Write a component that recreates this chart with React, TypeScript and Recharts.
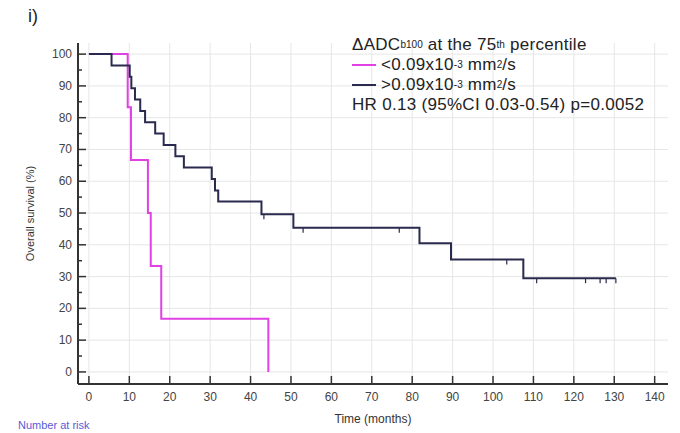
import { ComposedChart, Line, XAxis, YAxis, CartesianGrid, Legend, Label } from "recharts";

// Kaplan-Meier steps
const lowTimes = [0, 9.6, 10.4, 14.6, 15.3, 17.9, 44.4];
const lowSurvival = [100, 83.3, 66.7, 50, 33.3, 16.7, 0];

const highTimes = [0, 5.6, 10.1, 10.5, 11.4, 12.7, 13.9, 16.4, 18.5, 21.4, 23.5, 30.4, 31.2, 32.0, 42.7, 50.6, 81.8, 89.6, 107.5, 130.4];
const highSurvival = [100, 96.4, 92.9, 89.3, 85.7, 82.1, 78.6, 75.0, 71.4, 67.9, 64.3, 60.7, 57.1, 53.6, 49.6, 45.4, 40.5, 35.4, 29.5, 29.5];

const highCensorTimes = [43.3, 53.0, 76.8, 103.4, 110.8, 122.9, 126.5, 128.0, 130.4];
const highCensorSurvival = [49.6, 45.4, 45.4, 35.4, 29.5, 29.5, 29.5, 29.5, 29.5];

const xTicks = [0, 10, 20, 30, 40, 50, 60, 70, 80, 90, 100, 110, 120, 130, 140];
const yTicks = [0, 5, 10, 15, 20, 25, 30, 35, 40, 45, 50, 55, 60, 65, 70, 75, 80, 85, 90, 95, 100];
const yGrid = [0, 10, 20, 30, 40, 50, 60, 70, 80, 90, 100];

const LOW_COLOR = "#e040e4";
const HIGH_COLOR = "#2a2a4e";
const AXIS_COLOR = "#333";
const FONT = "'Liberation Sans', Arial, sans-serif";

const toPoints = (times: number[], values: number[]) => times.map((t, i) => ({ t, s: values[i] }));

const lowData = toPoints(lowTimes, lowSurvival);
const highData = toPoints(highTimes, highSurvival);
const highCensor = toPoints(highCensorTimes, highCensorSurvival);

function XTick({ x, y, payload }: any) {
  return (
    <g>
      <line x1={x} y1={y} x2={x} y2={y - 8} stroke={AXIS_COLOR} strokeWidth={1.5} />
      <text x={x} y={y + 17} textAnchor="middle" fontSize={12} fill="#444" fontFamily={FONT}>
        {payload.value}
      </text>
    </g>
  );
}

function YTick({ x, y, payload }: any) {
  const major = payload.value % 10 === 0;
  return (
    <g>
      <line x1={x} y1={y} x2={x + (major ? 8 : 4)} y2={y} stroke={AXIS_COLOR} strokeWidth={1.5} />
      {major && (
        <text x={x - 6} y={y + 4} textAnchor="end" fontSize={12} fill="#444" fontFamily={FONT}>
          {payload.value}
        </text>
      )}
    </g>
  );
}

function CensorMark({ cx, cy, index }: any) {
  return <line key={`c-${index}`} x1={cx} y1={cy} x2={cx} y2={cy + 5} stroke={HIGH_COLOR} strokeWidth={1.2} />;
}

function LegendBox() {
  const row = { display: "flex", alignItems: "center", height: 20 } as const;
  const small = { fontSize: 10, letterSpacing: 0 };
  const swatch = (color: string) => (
    <span style={{ display: "inline-block", width: 24, height: 2.5, background: color, marginRight: 5 }} />
  );
  return (
    <div style={{ fontFamily: FONT, fontSize: 17, letterSpacing: 0.3, color: "#222", lineHeight: "20px", whiteSpace: "nowrap" }}>
      <div style={row}>
        ΔADC<sub style={small}>b100</sub>&nbsp;at the 75<sup style={small}>th</sup>&nbsp;percentile
      </div>
      <div style={row}>
        {swatch(LOW_COLOR)}&lt;0.09x10<sup style={small}>-3</sup>&nbsp;mm<sup style={small}>2</sup>/s
      </div>
      <div style={row}>
        {swatch(HIGH_COLOR)}&gt;0.09x10<sup style={small}>-3</sup>&nbsp;mm<sup style={small}>2</sup>/s
      </div>
      <div style={row}>HR 0.13 (95%CI 0.03-0.54) p=0.0052</div>
    </div>
  );
}

export default function App() {
  return (
    <div style={{ position: "absolute", left: 0, top: 0, width: 680, height: 433, background: "#fff", overflow: "hidden" }}>
      <div style={{ position: "absolute", left: 28, top: 6, fontFamily: FONT, fontSize: 18, color: "#222" }}>i)</div>
      <ComposedChart width={680} height={433} margin={{ top: 43, right: 12, bottom: 0, left: 0 }}>
        <CartesianGrid stroke="#e6e6e6" horizontalValues={yGrid} verticalValues={xTicks} />
        <XAxis
          dataKey="t"
          type="number"
          domain={[-2.7, 143.3]}
          allowDataOverflow
          ticks={xTicks}
          interval={0}
          height={49}
          tickSize={0}
          tickMargin={0}
          tickLine={false}
          tick={<XTick />}
          axisLine={{ stroke: AXIS_COLOR, strokeWidth: 2 }}
        >
          <Label value="Time (months)" position="insideBottom" offset={10} fontSize={12} fill="#333" fontFamily={FONT} />
        </XAxis>
        <YAxis
          type="number"
          domain={[-3.8, 103.5]}
          allowDataOverflow
          ticks={yTicks}
          interval={0}
          width={78}
          tickSize={0}
          tickMargin={0}
          tickLine={false}
          tick={<YTick />}
          axisLine={{ stroke: AXIS_COLOR, strokeWidth: 2 }}
        >
          <Label
            value="Overall survival (%)"
            angle={-90}
            position="insideLeft"
            offset={30}
            fontSize={11}
            fill="#333"
            fontFamily={FONT}
            style={{ textAnchor: "middle" }}
          />
        </YAxis>
        <Legend
          content={<LegendBox />}
          layout="vertical"
          align="center"
          verticalAlign="middle"
          wrapperStyle={{ left: 352, top: 35, width: 320 }}
        />
        <Line data={lowData} dataKey="s" type="stepAfter" stroke={LOW_COLOR} strokeWidth={2} dot={false} isAnimationActive={false} />
        <Line data={highData} dataKey="s" type="stepAfter" stroke={HIGH_COLOR} strokeWidth={2} dot={false} isAnimationActive={false} />
        <Line
          data={highCensor}
          dataKey="s"
          stroke="none"
          dot={<CensorMark />}
          legendType="none"
          isAnimationActive={false}
        />
      </ComposedChart>
      <div style={{ position: "absolute", left: 18, top: 419, fontFamily: FONT, fontSize: 11, color: "#5a5ad8" }}>Number at risk</div>
    </div>
  );
}
